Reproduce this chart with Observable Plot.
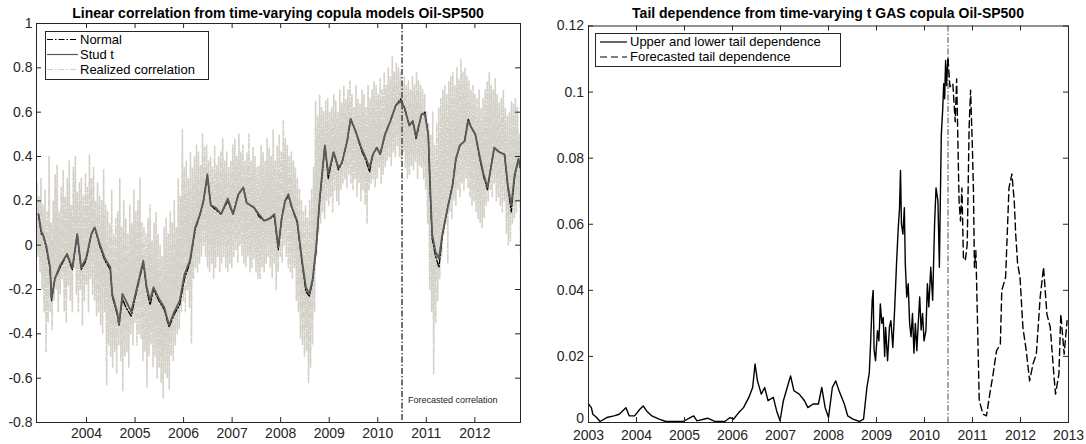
<!DOCTYPE html>
<html>
<head>
<meta charset="utf-8">
<script src="https://cdn.jsdelivr.net/npm/d3@7"></script>
<script src="https://cdn.jsdelivr.net/npm/@observablehq/plot@0.6"></script>
<style>
  html, body { margin: 0; padding: 0; background: #fff; }
  #wrap { position: relative; width: 1086px; height: 444px; overflow: hidden; font-family: 'Liberation Sans', Arial, Helvetica, sans-serif; color: #262626; }
  .panel { position: absolute; top: 0; }
  .title { position: absolute; font-weight: bold; font-size: 14px; line-height: 16px; text-align: center; color: #000; white-space: nowrap; }
  .lgbox { position: absolute; border: 1px solid #262626; background: #fff; box-sizing: border-box; }
  .lgtext { position: absolute; font-size: 13px; line-height: 14px; white-space: nowrap; color: #000; }
  .note { position: absolute; font-size: 9px; line-height: 10px; white-space: nowrap; color: #222; }
  #overlay { position: absolute; left: 0; top: 0; pointer-events: none; }
</style>
</head>
<body>
<div id="wrap">
  <div id="left" class="panel" style="left:0"></div>
  <div id="right" class="panel" style="left:543px"></div>
  <div class="title" style="left:36px;width:484px;top:5px">Linear correlation from time-varying copula models Oil-SP500</div>
  <div class="title" style="left:588px;width:480px;top:5px">Tail dependence from time-varying t GAS copula Oil-SP500</div>
  <div class="note" style="left:408px;top:395px">Forecasted correlation</div>
  <div class="lgbox" style="left:45px;top:31px;width:164px;height:49px"></div>
  <div class="lgtext" style="left:80px;top:32.5px">Normal</div>
  <div class="lgtext" style="left:80px;top:47.5px">Stud t</div>
  <div class="lgtext" style="left:80px;top:62.5px">Realized correlation</div>
  <div class="lgbox" style="left:595px;top:33px;width:246px;height:34px"></div>
  <div class="lgtext" style="left:630px;top:35px">Upper and lower tail dependence</div>
  <div class="lgtext" style="left:630px;top:50px">Forecasted tail dependence</div>
  <svg id="overlay" width="1086" height="444">
    <line x1="47" x2="78" y1="39.5" y2="39.5" stroke="#000" stroke-width="1" stroke-dasharray="6,2,1.5,2"/>
    <line x1="47" x2="78" y1="54.5" y2="54.5" stroke="#5a5a5a" stroke-width="1.2"/>
    <line x1="47" x2="78" y1="69.5" y2="69.5" stroke="#d3d0c6" stroke-width="1.2" stroke-dasharray="6,2,1.5,2"/>
    <line x1="600" x2="627" y1="42" y2="42" stroke="#000" stroke-width="1.2"/>
    <line x1="600" x2="627" y1="57" y2="57" stroke="#000" stroke-width="1.2" stroke-dasharray="7,4"/>
  </svg>
</div>
<script>
// ---------- Left panel data ----------
const leftYearTicks = [2004, 2005, 2006, 2007, 2008, 2009, 2010, 2011, 2012];
const leftValueTicks = [-0.8, -0.6, -0.4, -0.2, 0, 0.2, 0.4, 0.6, 0.8, 1];
const leftDomain = [2002.97, 2012.94];
const forecastStartLeft = 2010.50;

const studYears = [2003.01,2003.07,2003.10,2003.17,2003.25,2003.28,2003.35,2003.46,2003.60,2003.67,2003.71,2003.81,2003.89,2003.99,
  2004.10,2004.17,2004.28,2004.38,2004.49,2004.53,2004.63,2004.67,2004.74,2004.81,2004.92,
  2005.03,2005.17,2005.24,2005.31,2005.38,2005.49,2005.60,2005.70,2005.81,2005.92,
  2006.02,2006.13,2006.24,2006.34,2006.41,2006.49,2006.56,2006.66,2006.77,2006.91,
  2007.02,2007.13,2007.23,2007.30,2007.45,2007.55,2007.66,2007.77,2007.87,2007.95,
  2008.02,2008.09,2008.16,2008.23,2008.34,2008.44,2008.52,2008.59,2008.66,2008.73,2008.80,2008.91,2008.98,
  2009.09,2009.19,2009.26,2009.37,2009.44,2009.55,2009.66,2009.76,2009.83,2009.90,2009.98,
  2010.05,2010.15,2010.26,2010.37,2010.47,2010.55,2010.65,2010.72,2010.79,2010.90,2010.97,
  2011.04,2011.08,2011.12,2011.19,2011.26,2011.33,2011.44,2011.54,2011.61,2011.69,2011.79,2011.86,2011.93,
  2012.01,2012.11,2012.18,2012.26,2012.33,2012.40,2012.50,2012.61,2012.68,2012.75,2012.82,2012.90,2012.93];

const studT = [0.14,0.06,0.05,0.00,-0.10,-0.24,-0.15,-0.09,-0.04,-0.08,
  -0.10,0.05,-0.10,-0.06,0.05,0.08,0.00,-0.06,-0.10,-0.22,
  -0.30,-0.36,-0.22,-0.25,-0.30,-0.20,-0.07,-0.19,-0.25,-0.19,
  -0.24,-0.28,-0.36,-0.30,-0.25,-0.13,-0.07,0.08,0.14,0.20,
  0.32,0.18,0.17,0.14,0.21,0.14,0.23,0.26,0.19,0.17,
  0.14,0.11,0.12,0.14,-0.01,0.12,0.20,0.23,0.17,0.11,
  -0.07,-0.19,-0.22,-0.15,-0.01,0.20,0.45,0.32,0.42,0.35,
  0.37,0.47,0.57,0.51,0.44,0.39,0.35,0.41,0.44,0.41,
  0.50,0.56,0.63,0.65,0.62,0.54,0.56,0.49,0.59,0.59,
  0.50,0.26,0.05,-0.03,-0.06,0.05,0.17,0.27,0.39,0.45,
  0.47,0.56,0.53,0.50,0.39,0.32,0.26,0.35,0.44,0.42,
  0.41,0.27,0.18,0.32,0.39,0.35];

const normal = [0.14,0.05,0.05,-0.01,-0.11,-0.25,-0.15,-0.10,-0.04,-0.09,
  -0.11,0.05,-0.11,-0.07,0.05,0.08,-0.01,-0.07,-0.11,-0.23,
  -0.31,-0.36,-0.24,-0.28,-0.32,-0.21,-0.08,-0.20,-0.27,-0.20,
  -0.25,-0.29,-0.37,-0.31,-0.27,-0.15,-0.08,0.07,0.14,0.20,
  0.31,0.18,0.16,0.14,0.20,0.14,0.23,0.26,0.19,0.17,
  0.13,0.11,0.12,0.13,-0.02,0.12,0.20,0.22,0.17,0.10,
  -0.08,-0.21,-0.23,-0.16,-0.02,0.19,0.45,0.30,0.42,0.34,
  0.37,0.47,0.57,0.51,0.43,0.38,0.33,0.41,0.44,0.41,
  0.50,0.56,0.63,0.66,0.62,0.54,0.56,0.48,0.59,0.60,
  0.50,0.24,0.03,-0.05,-0.10,0.04,0.17,0.27,0.39,0.45,
  0.47,0.57,0.53,0.50,0.38,0.31,0.25,0.35,0.44,0.42,
  0.41,0.26,0.15,0.31,0.39,0.36];

// Realized correlation: weekly-ish observations (4 per month), Jan 2003 - Dec 2012
const realized = [
  // 2003
  0.28,-0.05,0.22,-0.12, 0.30,-0.20,0.18,-0.30, 0.25,-0.48,0.15,-0.35, 0.40,-0.30,0.10,-0.38,
  0.20,-0.25,0.32,-0.20, 0.36,-0.30,0.15,-0.22, 0.26,-0.15,0.34,-0.30, 0.22,-0.35,0.30,-0.18,
  0.38,-0.25,0.18,-0.30, 0.35,-0.10,0.40,-0.22, 0.24,-0.30,0.28,-0.20, 0.30,-0.36,0.22,-0.25,
  // 2004
  0.32,-0.18,0.26,-0.30, 0.41,-0.15,0.30,-0.22, 0.35,-0.25,0.20,-0.32, 0.28,-0.30,0.22,-0.36,
  0.20,-0.40,0.34,-0.30, 0.18,-0.63,0.15,-0.45, 0.10,-0.50,0.25,-0.55, 0.05,-0.48,0.12,-0.58,
  0.15,-0.45,0.30,-0.52, 0.08,-0.66,0.20,-0.50, 0.12,-0.48,0.05,-0.55, 0.18,-0.40,0.10,-0.45,
  // 2005
  0.25,-0.35,0.15,-0.45, 0.20,-0.40,0.30,-0.42, 0.10,-0.52,0.08,-0.48, 0.05,-0.64,0.12,-0.50,
  0.18,-0.45,0.02,-0.55, 0.10,-0.50,0.15,-0.60, 0.05,-0.55,0.00,-0.62, -0.05,-0.69,0.08,-0.58,
  0.12,-0.60,0.05,-0.65, 0.15,-0.50,0.10,-0.52, 0.20,-0.45,0.08,-0.40, 0.30,-0.38,0.22,-0.30,
  // 2006
  0.52,-0.25,0.35,-0.30, 0.38,-0.20,0.30,-0.28, 0.42,-0.44,0.35,-0.15, 0.40,-0.10,0.45,-0.12,
  0.42,-0.08,0.36,-0.05, 0.50,0.00,0.44,-0.05, 0.45,-0.10,0.38,-0.12, 0.40,-0.08,0.35,-0.15,
  0.45,-0.10,0.36,-0.05, 0.40,-0.12,0.42,-0.08, 0.48,-0.05,0.38,-0.10, 0.42,-0.12,0.35,-0.08,
  // 2007
  0.38,-0.10,0.45,-0.05, 0.48,-0.02,0.40,-0.08, 0.50,0.00,0.42,-0.05, 0.45,-0.08,0.38,-0.10,
  0.42,-0.05,0.50,-0.12, 0.38,-0.10,0.44,-0.06, 0.40,-0.12,0.35,-0.15, 0.36,-0.15,0.45,-0.10,
  0.42,-0.12,0.38,-0.08, 0.48,-0.05,0.44,-0.10, 0.40,-0.15,0.52,-0.08, 0.38,-0.20,0.45,-0.12,
  // 2008
  0.50,-0.05,0.42,-0.08, 0.56,0.00,0.48,-0.05, 0.45,-0.10,0.40,-0.12, 0.42,-0.15,0.38,-0.10,
  0.35,-0.25,0.30,-0.30, 0.25,-0.42,0.20,-0.45, 0.15,-0.50,0.18,-0.48, 0.12,-0.62,0.20,-0.55,
  0.25,-0.45,0.35,-0.30, 0.65,-0.05,0.58,0.05, 0.68,0.10,0.62,0.15, 0.60,0.12,0.65,0.20,
  // 2009
  0.66,0.18,0.60,0.22, 0.62,0.15,0.68,0.25, 0.65,0.20,0.60,0.18, 0.70,0.25,0.64,0.28,
  0.72,0.30,0.66,0.26, 0.70,0.32,0.74,0.28, 0.68,0.25,0.62,0.30, 0.72,0.22,0.66,0.28,
  0.64,0.20,0.70,0.25, 0.68,0.18,0.62,0.10, 0.72,0.25,0.66,0.28, 0.70,0.30,0.74,0.26,
  // 2010
  0.72,0.30,0.68,0.35, 0.75,0.28,0.70,0.32, 0.78,0.35,0.72,0.38, 0.80,0.40,0.76,0.36,
  0.85,0.42,0.78,0.40, 0.82,0.45,0.80,0.40, 0.78,0.38,0.74,0.42, 0.76,0.35,0.72,0.30,
  0.74,0.32,0.70,0.36, 0.76,0.34,0.72,0.38, 0.78,0.30,0.74,0.36, 0.72,0.35,0.70,0.30,
  // 2011
  0.68,0.25,0.60,0.10, 0.55,-0.20,0.50,-0.30, 0.60,-0.58,0.45,-0.35, 0.55,-0.25,0.62,-0.15,
  0.66,-0.05,0.70,0.05, 0.72,0.10,0.68,-0.08, 0.74,0.15,0.76,0.12, 0.78,0.20,0.72,0.18,
  0.80,0.25,0.75,0.22, 0.84,0.28,0.78,0.25, 0.80,0.30,0.76,0.26, 0.74,0.22,0.70,0.18,
  // 2012
  0.72,0.20,0.68,0.15, 0.66,0.12,0.70,0.10, 0.62,0.08,0.66,0.12, 0.70,0.18,0.74,0.20,
  0.78,0.25,0.72,0.22, 0.70,0.28,0.75,0.20, 0.68,0.22,0.64,0.18, 0.66,0.15,0.70,0.20,
  0.62,0.05,0.58,0.00, 0.60,0.02,0.65,0.10, 0.64,0.12,0.66,0.15, 0.62,0.20,0.50,-0.05
];
const realizedStart = 2002.98, realizedEnd = 2012.94;

// ---------- Right panel data ----------
const rightYearTicks = [2003, 2004, 2005, 2006, 2007, 2008, 2009, 2010, 2011, 2012, 2013];
const rightValueTicks = [0, 0.02, 0.04, 0.06, 0.08, 0.1, 0.12];
const rightDomain = [2003, 2013];
const forecastStartRight = 2010.49;

const tailYears = [2003.00,2003.06,2003.09,2003.17,2003.24,2003.38,2003.53,2003.64,2003.78,2003.85,2003.96,
  2004.07,2004.14,2004.21,2004.32,2004.47,2004.61,2004.97,2005.12,2005.19,2005.26,2005.48,2005.62,2005.84,2005.95,
  2006.02,2006.13,2006.23,2006.34,2006.42,2006.47,2006.52,2006.60,2006.67,2006.74,2006.85,2006.92,2006.99,
  2007.06,2007.14,2007.21,2007.28,2007.39,2007.50,2007.57,2007.68,2007.79,2007.86,2007.93,
  2008.00,2008.08,2008.15,2008.22,2008.33,2008.40,2008.51,2008.65,2008.73,2008.80,
  2008.85,2008.88,2008.91,2008.93,2008.95,2008.98,2009.02,2009.05,2009.08,2009.11,2009.14,2009.17,2009.19,2009.23,
  2009.27,2009.30,2009.34,2009.38,2009.42,2009.45,2009.48,2009.50,2009.52,2009.55,2009.58,2009.60,2009.63,2009.66,
  2009.69,2009.72,2009.75,2009.78,2009.81,2009.84,2009.87,2009.90,2009.93,2009.96,2009.99,
  2010.03,2010.06,2010.09,2010.13,2010.17,2010.21,2010.24,2010.28,2010.31,2010.35,2010.38,2010.40,2010.42,2010.44,2010.46,2010.47,2010.49];
const tailDep = [0.0056,0.0045,0.0025,0.0015,0.0003,0.0015,0.0020,0.0025,0.0045,0.0020,0.0020,
  0.0040,0.0050,0.0035,0.0020,0.0010,0.0003,0.0003,0.0015,0.0020,0.0005,0.0013,0.0004,0.0003,0.0015,
  0.0010,0.0030,0.0045,0.0076,0.0106,0.0177,0.0126,0.0086,0.0106,0.0066,0.0076,0.0035,0.0005,
  0.0066,0.0106,0.0141,0.0096,0.0086,0.0066,0.0045,0.0056,0.0056,0.0106,0.0045,
  0.0015,0.0106,0.0126,0.0096,0.0056,0.0020,0.0010,0.0003,0.0010,0.0106,
  0.0150,0.0250,0.0369,0.0400,0.0220,0.0187,0.0278,0.0247,0.0359,0.0300,0.0318,0.0200,0.0288,0.0187,
  0.0290,0.0308,0.0227,0.0350,0.0490,0.0580,0.0650,0.0763,0.0600,0.0570,0.0650,0.0480,0.0380,0.0420,
  0.0300,0.0260,0.0330,0.0210,0.0300,0.0217,0.0300,0.0380,0.0280,0.0330,0.0247,
  0.0278,0.0420,0.0350,0.0470,0.0370,0.0600,0.0710,0.0670,0.0470,0.0870,0.0950,0.1025,0.0980,0.1096,0.1020,0.1056,0.1100];

const forecastYears = [2010.49,2010.53,2010.59,2010.64,2010.67,2010.70,2010.72,2010.75,2010.78,2010.81,2010.85,2010.89,2010.93,2010.96,
  2011.00,2011.02,2011.04,2011.07,2011.11,2011.14,2011.22,2011.29,2011.36,2011.43,2011.50,2011.58,2011.61,2011.69,2011.76,2011.82,2011.87,2011.90,2011.94,2011.99,
  2012.05,2012.12,2012.19,2012.26,2012.33,2012.41,2012.48,2012.55,2012.62,2012.70,2012.73,2012.80,2012.84,2012.91,2012.97];
const forecastTail = [0.1100,0.1016,0.1026,0.0910,0.1040,0.0820,0.0670,0.0610,0.0710,0.0500,0.0490,0.0540,0.0894,0.1006,
  0.0820,0.0700,0.0470,0.0520,0.0268,0.0066,0.0025,0.0020,0.0086,0.0147,0.0217,0.0237,0.0400,0.0440,0.0710,0.0752,0.0670,0.0570,0.0480,0.0440,
  0.0288,0.0217,0.0126,0.0177,0.0207,0.0379,0.0470,0.0328,0.0288,0.0136,0.0086,0.0147,0.0328,0.0207,0.0308];

// ---------- build tables ----------
const studData = studYears.map((x, i) => ({x, stud: studT[i], norm: normal[i]}));
const realizedData = realized.map((y, i) => ({x: realizedStart + i * (realizedEnd - realizedStart) / (realized.length - 1), y}));
const tailData = tailYears.map((x, i) => ({x, y: tailDep[i]}));
const forecastData = forecastYears.map((x, i) => ({x, y: forecastTail[i]}));

const fmt = d => String(+d.toFixed(2));
const axisColor = "#262626";
const style = {fontFamily: "'Liberation Sans', Arial, Helvetica, sans-serif", fontSize: "14px", color: axisColor, background: "transparent", overflow: "visible"};

// ---------- Left chart ----------
const L = {w: 543, h: 444, ml: 36, mr: 23, mt: 23, mb: 22};
const Lph = L.h - L.mt - L.mb, Lpw = L.w - L.ml - L.mr;
const left = Plot.plot({
  width: L.w, height: L.h,
  marginLeft: L.ml, marginRight: L.mr, marginTop: L.mt, marginBottom: L.mb,
  style,
  x: {domain: leftDomain, ticks: leftYearTicks, tickFormat: d => String(d), tickSize: 0, tickPadding: 6, label: null},
  y: {domain: [-0.8, 1], ticks: leftValueTicks, tickFormat: fmt, tickSize: 0, tickPadding: 4, label: null},
  marks: [
    Plot.line(realizedData, {x: "x", y: "y", stroke: "#d4d1c8", strokeWidth: 1.6, strokeDasharray: "6,2,1.5,2"}),
    Plot.line(studData, {x: "x", y: "norm", stroke: "#000", strokeWidth: 1.3, strokeDasharray: "6,2,1.5,2"}),
    Plot.line(studData, {x: "x", y: "stud", stroke: "#5a5a5a", strokeWidth: 1.8}),
    Plot.ruleX([forecastStartLeft], {stroke: "#5a5a5a", strokeWidth: 1.7, strokeDasharray: "6,2,1.5,2"}),
    Plot.ruleX(leftYearTicks, {x: d => d, insetTop: Lph - 5, stroke: axisColor}),
    Plot.ruleX(leftYearTicks, {x: d => d, insetBottom: Lph - 5, stroke: axisColor}),
    Plot.ruleY(leftValueTicks, {y: d => d, insetRight: Lpw - 5, stroke: axisColor}),
    Plot.ruleY(leftValueTicks, {y: d => d, insetLeft: Lpw - 5, stroke: axisColor}),
    Plot.frame({stroke: axisColor, strokeWidth: 1})
  ]
});
document.getElementById("left").appendChild(left);

// ---------- Right chart ----------
const R = {w: 543, h: 444, ml: 45, mr: 18, mt: 25.5, mb: 22};
const Rph = R.h - R.mt - R.mb, Rpw = R.w - R.ml - R.mr;
const right = Plot.plot({
  width: R.w, height: R.h,
  marginLeft: R.ml, marginRight: R.mr, marginTop: R.mt, marginBottom: R.mb,
  style,
  x: {domain: rightDomain, ticks: rightYearTicks, tickFormat: d => String(d), tickSize: 0, tickPadding: 8, label: null},
  y: {domain: [0, 0.12], axis: null},
  marks: [
    Plot.ruleX([forecastStartRight], {stroke: "#6a6a6a", strokeWidth: 1.2, strokeDasharray: "6,2,1.5,2"}),
    Plot.line(tailData, {x: "x", y: "y", stroke: "#000", strokeWidth: 1.4}),
    Plot.line(forecastData, {x: "x", y: "y", stroke: "#000", strokeWidth: 1.4, strokeDasharray: "7,4"}),
    Plot.ruleX(rightYearTicks, {x: d => d, insetTop: Rph - 5, stroke: axisColor}),
    Plot.ruleX(rightYearTicks, {x: d => d, insetBottom: Rph - 5, stroke: axisColor}),
    Plot.ruleY(rightValueTicks, {y: d => d, insetRight: Rpw - 5, stroke: axisColor}),
    Plot.ruleY(rightValueTicks, {y: d => d, insetLeft: Rpw - 5, stroke: axisColor}),
    // y tick labels (the "0" label lifted slightly so it clears the "2003" label)
    Plot.text(rightValueTicks.filter(d => d > 0), {y: d => d, text: fmt, frameAnchor: "left", textAnchor: "end", dx: -4.5, fill: axisColor}),
    Plot.text(rightValueTicks.filter(d => d === 0), {y: d => d, text: fmt, frameAnchor: "left", textAnchor: "end", dx: -4.5, dy: -4, fill: axisColor}),
    Plot.frame({stroke: axisColor, strokeWidth: 1})
  ]
});
document.getElementById("right").appendChild(right);
</script>
</body>
</html>
